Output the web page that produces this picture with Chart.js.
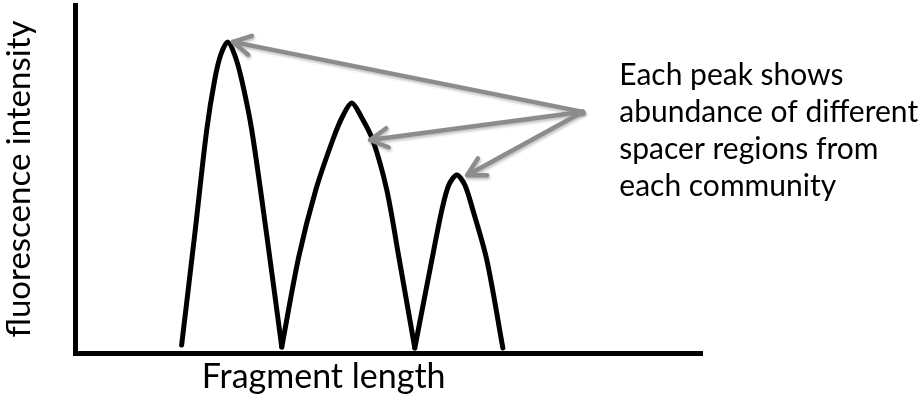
<!DOCTYPE html>
<html>
<head>
<meta charset="utf-8">
<title>Fragment length profile</title>
<script src="https://cdn.jsdelivr.net/npm/chart.js@4.4.1/dist/chart.umd.min.js"></script>
<style>
  html, body { margin: 0; padding: 0; background: #fff; }
</style>
</head>
<body>
<canvas id="profile" width="923" height="401"></canvas>
<script>
// Peak outlines (x = fragment length, y = intensity, both 0-100)
const peak1Length    = [16.93, 19.01, 20.93, 22.20, 23.16, 24.28, 25.40, 26.52, 28.12, 30.51, 32.91];
const peak1Intensity = [ 2.30, 33.91, 64.08, 78.45, 85.63, 89.37, 85.63, 78.45, 64.08, 33.91,  1.72];

const peak2Length    = [32.91, 35.62, 38.34, 41.05, 42.65, 44.09, 45.53, 47.44, 49.68, 51.60, 54.15];
const peak2Intensity = [ 1.72, 27.59, 46.84, 61.21, 68.10, 71.84, 68.10, 61.21, 46.84, 27.59,  1.44];

const peak3Length    = [54.15, 56.87, 58.47, 59.58, 60.86, 62.14, 63.42, 65.65, 68.21];
const peak3Intensity = [ 1.44, 26.72, 41.09, 48.28, 51.15, 48.28, 41.09, 26.72,  1.44];

// Callout: arrows start at one point and end at each peak
const arrowFrom = [81.0, 69.3];
const arrowTipsLength    = [25.1, 47.0, 62.5];
const arrowTipsIntensity = [89.4, 61.2, 51.1];

const noteLines = ["Each peak shows", "abundance of different", "spacer regions from", "each community"];
const xAxisLabel = "Fragment length";
const yAxisLabel = "fluorescence intensity";

function toPoints(xs, ys) {
    return xs.map((v, i) => ({ x: v, y: ys[i] }));
}

function peakDataset(xs, ys) {
    return {
        data: toPoints(xs, ys),
        borderColor: '#000',
        borderWidth: 5,
        pointRadius: 0,
        tension: 0.3,
        borderCapStyle: 'round',
        borderJoinStyle: 'round',
        fill: false
    };
}

// Draws the callout arrows, the note and the x axis label
const annotations = {
    id: 'annotations',
    afterDatasetsDraw(chart) {
        const { ctx, chartArea } = chart;
        const xs = chart.scales.x, ys = chart.scales.y;

        const sx = xs.getPixelForValue(arrowFrom[0]);
        const sy = ys.getPixelForValue(arrowFrom[1]);

        ctx.save();
        ctx.strokeStyle = '#8c8c8c';
        ctx.lineWidth = 4.5;
        ctx.lineCap = 'round';
        ctx.lineJoin = 'round';
        ctx.shadowColor = 'rgba(0,0,0,0.25)';
        ctx.shadowBlur = 3;
        ctx.shadowOffsetX = 1;
        ctx.shadowOffsetY = 2;
        arrowTipsLength.forEach((len, i) => {
            const tx = xs.getPixelForValue(len);
            const ty = ys.getPixelForValue(arrowTipsIntensity[i]);
            const ang = Math.atan2(sy - ty, sx - tx);
            const head = 20, spread = 0.5;
            ctx.beginPath();
            ctx.moveTo(sx, sy);
            ctx.lineTo(tx, ty);
            ctx.moveTo(tx + head * Math.cos(ang - spread), ty + head * Math.sin(ang - spread));
            ctx.lineTo(tx, ty);
            ctx.lineTo(tx + head * Math.cos(ang + spread), ty + head * Math.sin(ang + spread));
            ctx.stroke();
        });
        ctx.restore();

        ctx.save();
        ctx.fillStyle = '#000';
        ctx.textBaseline = 'alphabetic';
        ctx.textAlign = 'left';
        ctx.font = '30px Lato';
        const nx = xs.getPixelForValue(86.8);
        const ny = ys.getPixelForValue(77.0);
        noteLines.forEach((line, i) => ctx.fillText(line, nx, ny + i * 37));

        ctx.textAlign = 'center';
        ctx.font = '34px Lato';
        ctx.fillText(xAxisLabel, xs.getPixelForValue(39.6), chartArea.bottom + 35);
        ctx.restore();
    }
};

new Chart(document.getElementById('profile'), {
    type: 'line',
    data: {
        datasets: [
            peakDataset(peak1Length, peak1Intensity),
            peakDataset(peak2Length, peak2Intensity),
            peakDataset(peak3Length, peak3Intensity)
        ]
    },
    options: {
        responsive: false,
        animation: false,
        devicePixelRatio: 1,
        layout: { padding: { top: 5, right: 221, bottom: 48, left: 0 } },
        plugins: {
            legend: { display: false },
            tooltip: { enabled: false }
        },
        scales: {
            x: {
                type: 'linear',
                min: 0,
                max: 100,
                grid: { display: false, drawTicks: false },
                border: { display: true, color: '#000', width: 5 },
                ticks: { display: false }
            },
            y: {
                min: 0,
                max: 100,
                grid: { display: false, drawTicks: false },
                border: { display: true, color: '#000', width: 5 },
                ticks: { display: false },
                title: {
                    display: true,
                    text: yAxisLabel,
                    color: '#000',
                    font: { family: 'Lato', size: 33 },
                    padding: { top: 0, bottom: 36 }
                }
            }
        }
    },
    plugins: [annotations]
});
</script>
</body>
</html>
